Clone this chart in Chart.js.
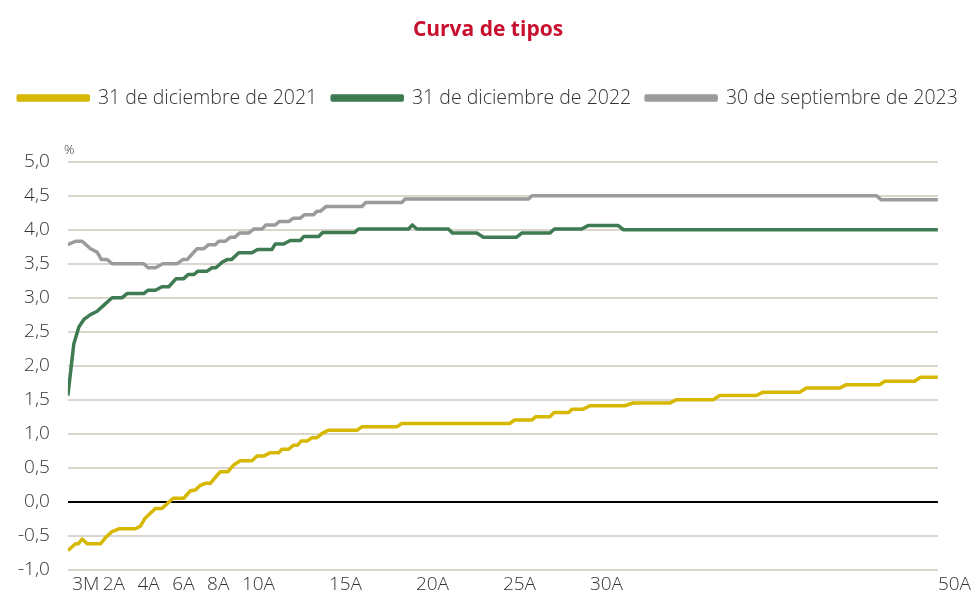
<!DOCTYPE html>
<html>
<head>
<meta charset="utf-8">
<script src="https://cdn.jsdelivr.net/npm/chart.js@4.4.0/dist/chart.umd.min.js"></script>
<style>
  html, body { margin: 0; padding: 0; background: #fff; }
  #wrap { width: 976px; height: 599px; }
</style>
</head>
<body>
<div id="wrap"><canvas id="curva"></canvas></div>
<script>
// plazos en años y tipos (%)
const curva2021 = [
  [0, -0.72], [0.44, -0.62], [0.6, -0.62], [0.82, -0.55], [1.11, -0.62], [1.88, -0.62],
  [2.16, -0.53], [2.54, -0.44], [2.93, -0.4], [3.88, -0.4], [4.17, -0.36], [4.42, -0.25],
  [5.03, -0.1], [5.41, -0.1], [6.05, 0.05], [6.66, 0.05], [7.04, 0.16], [7.33, 0.17],
  [7.61, 0.24], [7.9, 0.27], [8.19, 0.27], [8.76, 0.44], [9.2, 0.44], [9.53, 0.54],
  [9.91, 0.6], [10.58, 0.6], [10.87, 0.67], [11.25, 0.67], [11.64, 0.72], [12.11, 0.72],
  [12.3, 0.77], [12.69, 0.77], [12.97, 0.83], [13.2, 0.83], [13.41, 0.89], [13.74, 0.89],
  [14.03, 0.94], [14.31, 0.94], [14.6, 1.0], [14.95, 1.05], [16.61, 1.05], [16.9, 1.1],
  [18.9, 1.1], [19.19, 1.15], [25.41, 1.15], [25.66, 1.2], [26.65, 1.2], [26.89, 1.25],
  [27.71, 1.25], [27.94, 1.31], [28.76, 1.31], [28.99, 1.36], [29.62, 1.36], [30.0, 1.41],
  [32.0, 1.41], [32.49, 1.45], [34.6, 1.45], [34.98, 1.5], [37.08, 1.5], [37.47, 1.56],
  [39.57, 1.56], [39.95, 1.61], [42.06, 1.61], [42.44, 1.67], [44.35, 1.67], [44.74, 1.72],
  [46.65, 1.72], [46.94, 1.77], [48.66, 1.77], [49.0, 1.83], [50, 1.83]
];

const curva2022 = [
  [0, 1.56], [0.34, 2.32], [0.63, 2.57], [0.92, 2.68], [1.3, 2.75], [1.68, 2.8],
  [2.07, 2.89], [2.54, 3.0], [3.12, 3.0], [3.4, 3.06], [4.36, 3.06], [4.61, 3.11],
  [5.03, 3.11], [5.41, 3.16], [5.8, 3.16], [6.22, 3.28], [6.66, 3.28], [6.91, 3.34],
  [7.23, 3.34], [7.48, 3.39], [8.0, 3.39], [8.29, 3.44], [8.5, 3.44], [8.86, 3.52],
  [9.15, 3.56], [9.4, 3.56], [9.82, 3.66], [10.58, 3.66], [10.9, 3.71], [11.73, 3.71],
  [11.92, 3.79], [12.4, 3.79], [12.78, 3.84], [13.36, 3.84], [13.55, 3.9], [14.41, 3.9],
  [14.64, 3.96], [16.48, 3.96], [16.7, 4.01], [19.58, 4.01], [19.8, 4.07], [20.05, 4.01],
  [21.87, 4.01], [22.1, 3.95], [23.5, 3.95], [23.88, 3.89], [25.79, 3.89], [26.08, 3.95],
  [27.71, 3.95], [27.96, 4.01], [29.52, 4.01], [29.9, 4.06], [31.63, 4.06], [31.92, 4.0],
  [50, 4.0]
];

const curva2023 = [
  [0, 3.78], [0.44, 3.83], [0.82, 3.83], [1.3, 3.72], [1.68, 3.67], [1.93, 3.56],
  [2.26, 3.56], [2.54, 3.5], [4.36, 3.5], [4.61, 3.44], [5.03, 3.44], [5.45, 3.5],
  [6.28, 3.5], [6.6, 3.56], [6.85, 3.56], [7.42, 3.72], [7.81, 3.72], [8.09, 3.78],
  [8.48, 3.78], [8.67, 3.83], [9.05, 3.83], [9.34, 3.89], [9.6, 3.89], [9.86, 3.95],
  [10.39, 3.95], [10.68, 4.01], [11.16, 4.01], [11.38, 4.07], [11.92, 4.07], [12.15, 4.12],
  [12.69, 4.12], [12.97, 4.17], [13.36, 4.17], [13.59, 4.22], [14.12, 4.22], [14.31, 4.27],
  [14.5, 4.27], [14.83, 4.34], [16.9, 4.34], [17.12, 4.4], [19.19, 4.4], [19.38, 4.45],
  [26.46, 4.45], [26.69, 4.5], [46.46, 4.5], [46.75, 4.44], [50, 4.44]
];

const seriesNames = ["31 de diciembre de 2021", "31 de diciembre de 2022", "30 de septiembre de 2023"];
const seriesColors = ["#D6B800", "#3E7B52", "#9B9B9B"];

const xTickValues = [0.25, 2, 4, 6, 8, 10, 15, 20, 25, 30, 50];
const xTickLabels = ["3M", "2A", "4A", "6A", "8A", "10A", "15A", "20A", "25A", "30A", "50A"];

const FONT = "'Open Sans', 'Noto Sans', sans-serif";

function toPoints(arr) {
  return arr.map(p => ({ x: p[0], y: p[1] }));
}

const datasets = [curva2021, curva2022, curva2023].map((c, i) => ({
  label: seriesNames[i],
  data: toPoints(c),
  borderColor: seriesColors[i],
  backgroundColor: seriesColors[i],
  borderWidth: 3.5,
  pointRadius: 0,
  tension: 0,
  borderJoinStyle: "round",
  fill: false
}));

// espacio extra debajo de la leyenda
const legendGap = {
  id: "legendGap",
  beforeInit(chart) {
    const fit = chart.legend.fit;
    chart.legend.fit = function () {
      fit.bind(chart.legend)();
      this.height += 44;
    };
  }
};

// simbolo % encima del eje
const percentLabel = {
  id: "percentLabel",
  afterDraw(chart) {
    const { ctx, chartArea } = chart;
    ctx.save();
    ctx.font = "300 13px " + FONT;
    ctx.fillStyle = "#333";
    ctx.textAlign = "left";
    ctx.textBaseline = "middle";
    ctx.fillText("%", chartArea.left - 4, chartArea.top - 11);
    ctx.restore();
  }
};

new Chart(document.getElementById("curva"), {
  type: "line",
  data: { datasets: datasets },
  plugins: [legendGap, percentLabel],
  options: {
    responsive: true,
    maintainAspectRatio: false,
    animation: false,
    layout: { padding: { left: 0, right: 0, top: 0, bottom: 0 } },
    plugins: {
      title: {
        display: true,
        text: "Curva de tipos",
        color: "#C8102E",
        font: { family: FONT, size: 21, weight: "bold" },
        padding: { top: 17, bottom: 31 }
      },
      legend: {
        display: true,
        position: "top",
        labels: {
          boxWidth: 70,
          boxHeight: 4,
          padding: 15,
          color: "#333",
          font: { family: FONT, size: 19.5, weight: "300" }
        }
      },
      tooltip: { enabled: false }
    },
    scales: {
      x: {
        type: "linear",
        min: 0,
        max: 50,
        afterBuildTicks(axis) {
          axis.ticks = xTickValues.map(v => ({ value: v }));
        },
        ticks: {
          align: "start",
          autoSkip: false,
          maxRotation: 0,
          padding: 5,
          color: "#333",
          font: { family: FONT, size: 19, weight: "300", lineHeight: 1 },
          callback(value) {
            const i = xTickValues.indexOf(value);
            return i >= 0 ? xTickLabels[i] : "";
          }
        },
        grid: { display: false, drawTicks: false },
        border: { display: false }
      },
      y: {
        min: -1,
        max: 5,
        ticks: {
          stepSize: 0.5,
          padding: 18,
          color: "#333",
          font: { family: FONT, size: 19, weight: "300" },
          callback(value) {
            return value.toFixed(1).replace(".", ",");
          }
        },
        grid: {
          drawTicks: false,
          lineWidth: 2,
          color(ctx) {
            return ctx.tick && ctx.tick.value === 0 ? "#000000" : "#DAD6CB";
          }
        },
        border: { display: false }
      }
    }
  }
});
</script>
</body>
</html>
